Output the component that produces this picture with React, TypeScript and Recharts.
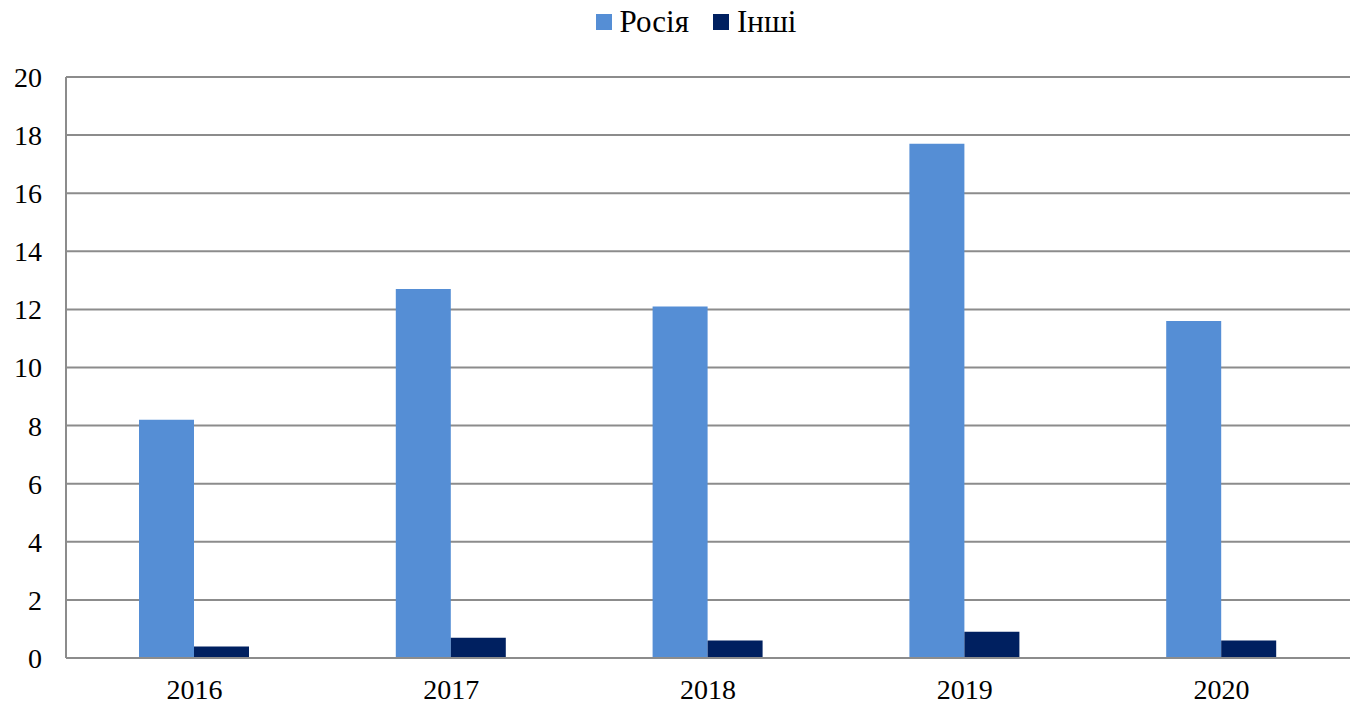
import React from 'react';
import { BarChart, Bar, XAxis, YAxis, CartesianGrid, Legend } from 'recharts';

// Yearly values for the two supplier groups
const years = ['2016', '2017', '2018', '2019', '2020'];
const russia = [8.2, 12.7, 12.1, 17.7, 11.6];
const others = [0.4, 0.7, 0.6, 0.9, 0.6];
const yTicks = [0, 2, 4, 6, 8, 10, 12, 14, 16, 18, 20];

const seriesNames = { russia: 'Росія', others: 'Інші' };
const colors = { russia: '#558ED5', others: '#002060' };

const data = years.map((year, i) => ({
  year,
  russia: russia[i],
  others: others[i],
}));

const FONT = "'Times New Roman', 'Liberation Serif', 'DejaVu Serif', serif";
const GRID = '#8c8c8c';

const LegendContent = () => (
  <div
    style={{
      display: 'flex',
      justifyContent: 'center',
      alignItems: 'center',
      height: 44,
      paddingLeft: 42,
      boxSizing: 'border-box',
      fontFamily: FONT,
      fontSize: 31,
      color: '#000',
    }}
  >
    {(['russia', 'others'] as const).map((key, i) => (
      <div key={key} style={{ display: 'flex', alignItems: 'center', marginLeft: i ? 24 : 0 }}>
        <span style={{ width: 16, height: 16, background: colors[key], marginRight: 8 }} />
        <span>{seriesNames[key]}</span>
      </div>
    ))}
  </div>
);

export default function App() {
  return (
    <div style={{ position: 'absolute', left: 0, top: 0, background: '#fff', fontFamily: FONT }}>
      <BarChart
        width={1353}
        height={706}
        data={data}
        margin={{ top: 33, right: 3, bottom: 0, left: 0 }}
        barGap={0}
      >
        <Legend verticalAlign="top" content={<LegendContent />} wrapperStyle={{ top: 0 }} />
        <CartesianGrid vertical={false} stroke={GRID} strokeWidth={2} />
        <XAxis
          dataKey="year"
          height={48}
          tickLine={false}
          tickSize={0}
          tickMargin={21}
          axisLine={{ stroke: GRID, strokeWidth: 2 }}
          tick={{ fill: '#000', fontSize: 28, fontFamily: FONT }}
        />
        <YAxis
          width={66}
          domain={[0, 20]}
          ticks={yTicks}
          interval={0}
          tickLine={false}
          tickSize={0}
          tickMargin={24}
          axisLine={{ stroke: GRID, strokeWidth: 2 }}
          tick={{ fill: '#000', fontSize: 28, fontFamily: FONT }}
        />
        <Bar dataKey="russia" name={seriesNames.russia} fill={colors.russia} barSize={55} isAnimationActive={false} />
        <Bar dataKey="others" name={seriesNames.others} fill={colors.others} barSize={55} isAnimationActive={false} />
      </BarChart>
    </div>
  );
}
